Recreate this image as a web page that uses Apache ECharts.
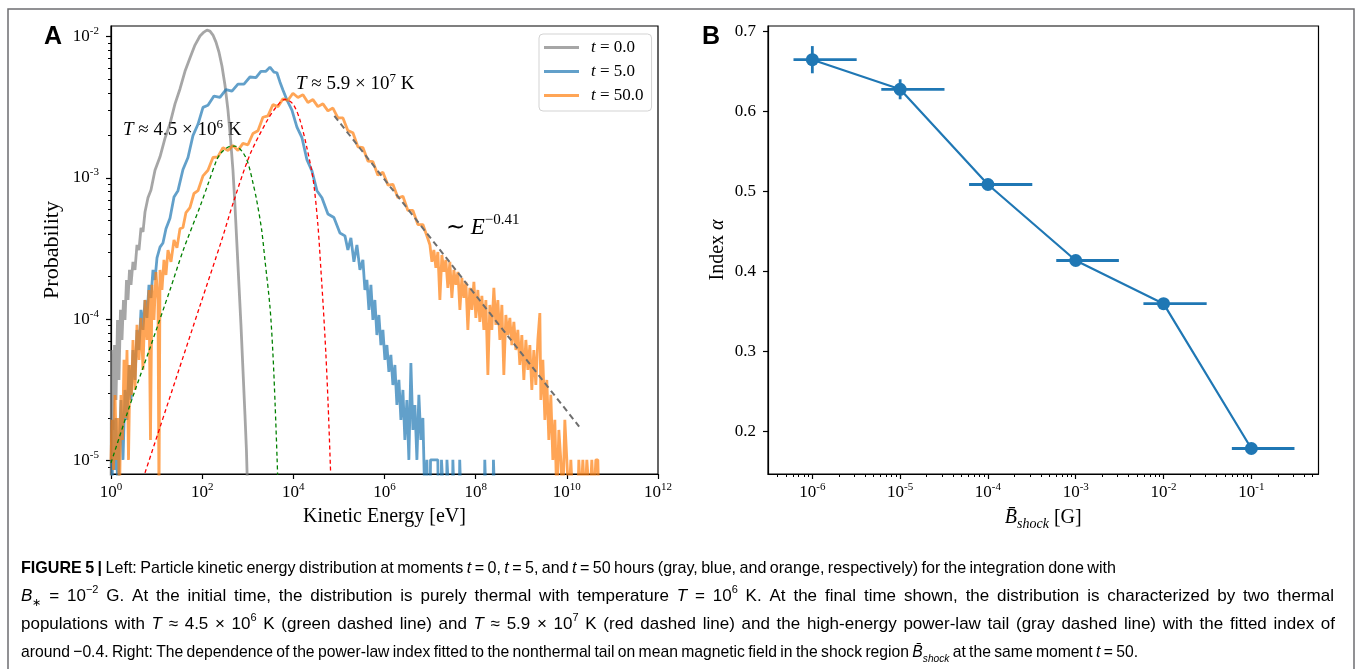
<!DOCTYPE html>
<html><head><meta charset="utf-8"><title>Figure 5</title>
<script src="https://cdn.jsdelivr.net/npm/echarts@6.0.0/dist/echarts.min.js"></script>
<style>html,body{margin:0;padding:0;background:#fff;}#chart{width:1356px;height:669px;}</style>
</head><body><div id="chart"></div>
<script>
// ================= DATA (all energy / probability values are log10) =================
const seriesNames = ['t = 0.0', 't = 5.0', 't = 50.0'];

// [log10 E (eV), log10 Probability]
const grayHist = [[0,-5.3],[0.01,-4.218],[0.044,-4.784],[0.077,-4.183],[0.11,-4.572],[0.143,-4.005],[0.175,-4.43],[0.208,-3.934],[0.241,-4.147],[0.274,-3.864],[0.307,-4.005],[0.34,-3.722],[0.373,-3.864],[0.406,-3.651],[0.439,-3.757],[0.482,-3.594],[0.526,-3.651],[0.57,-3.474],[0.614,-3.51],[0.658,-3.354],[0.702,-3.382],[0.746,-3.241],[0.811,-3.14],[0.877,-3.085],[0.965,-2.945],[1.075,-2.85],[1.184,-2.72],[1.294,-2.615],[1.404,-2.475],[1.513,-2.37],[1.623,-2.245],[1.732,-2.15],[1.842,-2.059],[1.952,-1.995],[2.039,-1.967],[2.105,-1.953],[2.171,-1.96],[2.237,-1.988],[2.303,-2.038],[2.368,-2.108],[2.434,-2.207],[2.5,-2.342],[2.566,-2.519],[2.621,-2.717],[2.675,-2.943],[2.719,-3.191],[2.763,-3.474],[2.807,-3.757],[2.851,-4.04],[2.895,-4.359],[2.939,-4.678],[2.971,-4.926],[3.004,-5.3]];

const blueHist = [[0.022,-5.3],[0.044,-4.713],[0.077,-5.067],[0.11,-4.699],[0.154,-5.3],[0.186,-4.855],[0.219,-4.572],[0.263,-4.996],[0.307,-4.501],[0.351,-4.713],[0.395,-4.324],[0.439,-4.572],[0.482,-4.218],[0.526,-4.43],[0.57,-4.076],[0.614,-4.218],[0.658,-3.934],[0.702,-4.076],[0.746,-3.864],[0.789,-3.991],[0.833,-3.757],[0.877,-3.85],[0.921,-3.651],[0.965,-3.722],[1.009,-3.566],[1.075,-3.49],[1.14,-3.46],[1.206,-3.36],[1.294,-3.285],[1.382,-3.135],[1.469,-3.09],[1.579,-2.94],[1.689,-2.855],[1.798,-2.70],[1.908,-2.62],[2.018,-2.50],[2.127,-2.485],[2.259,-2.42],[2.39,-2.43],[2.522,-2.375],[2.654,-2.385],[2.785,-2.335],[2.917,-2.335],[3.048,-2.285],[3.18,-2.29],[3.289,-2.245],[3.399,-2.245],[3.487,-2.215],[3.575,-2.25],[3.64,-2.255],[3.706,-2.32],[3.772,-2.377],[3.86,-2.448],[3.969,-2.52],[4.079,-2.64],[4.189,-2.715],[4.298,-2.87],[4.408,-2.95],[4.518,-3.09],[4.627,-3.14],[4.759,-3.255],[4.89,-3.28],[5.022,-3.39],[5.132,-3.41],[5.197,-3.51],[5.263,-3.424],[5.329,-3.594],[5.395,-3.474],[5.461,-3.651],[5.526,-3.58],[5.57,-3.793],[5.614,-3.722],[5.658,-3.934],[5.702,-3.757],[5.746,-4.005],[5.789,-3.864],[5.833,-4.112],[5.877,-3.97],[5.921,-4.183],[5.965,-4.076],[6.009,-4.288],[6.053,-4.183],[6.096,-4.373],[6.14,-4.253],[6.184,-4.466],[6.228,-4.324],[6.272,-4.607],[6.316,-4.43],[6.36,-4.713],[6.404,-4.501],[6.447,-4.855],[6.491,-4.572],[6.535,-4.996],[6.579,-4.31],[6.623,-4.784],[6.667,-4.607],[6.711,-4.996],[6.754,-4.536],[6.798,-4.855],[6.842,-4.699],[6.886,-5.3],[6.93,-4.996],[6.95,-5.3],[7.0,-5.3],[7.01,-4.996],[7.17,-4.996],[7.18,-5.3],[7.24,-5.3],[7.25,-4.996],[7.29,-4.996],[7.3,-5.3],[7.36,-5.3],[7.37,-4.996],[7.41,-4.996],[7.42,-5.3],[7.49,-5.3],[7.5,-4.996],[7.52,-4.996],[7.53,-5.3],[7.64,-5.3],[7.65,-4.996],[7.67,-4.996],[7.68,-5.3],[8.19,-5.3],[8.2,-4.996],[8.22,-4.996],[8.23,-5.3],[8.38,-5.3],[8.39,-4.996],[8.41,-4.996],[8.42,-5.3]];

const orangeHist = [[0,-4.996],[0.022,-4.713],[0.055,-5.067],[0.088,-4.536],[0.121,-4.996],[0.154,-4.699],[0.186,-5.3],[0.219,-4.536],[0.252,-4.855],[0.285,-4.288],[0.318,-4.699],[0.351,-4.218],[0.384,-4.996],[0.417,-4.324],[0.449,-4.536],[0.482,-4.147],[0.526,-4.501],[0.57,-4.04],[0.614,-4.288],[0.658,-3.991],[0.702,-4.359],[0.746,-3.864],[0.789,-4.147],[0.833,-3.793],[0.866,-4.855],[0.899,-3.757],[0.943,-4.005],[0.987,-3.666],[1.031,-3.864],[1.053,-5.3],[1.075,-3.651],[1.118,-3.793],[1.162,-3.58],[1.206,-3.687],[1.25,-3.51],[1.316,-3.594],[1.382,-3.439],[1.447,-3.495],
 [1.513,-3.36],[1.579,-3.35],[1.645,-3.245],[1.732,-3.21],[1.82,-3.11],[1.908,-3.09],[2.018,-2.985],[2.127,-2.945],[2.237,-2.855],[2.346,-2.85],[2.456,-2.785],[2.566,-2.805],[2.675,-2.77],[2.785,-2.805],[2.895,-2.755],[3.004,-2.765],[3.114,-2.685],[3.224,-2.665],[3.333,-2.57],[3.443,-2.56],[3.553,-2.48],[3.662,-2.495],[3.772,-2.44],[3.882,-2.45],[3.991,-2.40],[4.101,-2.43],[4.211,-2.41],[4.32,-2.465],[4.43,-2.445],[4.539,-2.495],[4.649,-2.475],[4.759,-2.525],[4.868,-2.505],[4.978,-2.575],[5.088,-2.575],[5.197,-2.665],[5.307,-2.68],[5.417,-2.78],[5.526,-2.785],[5.636,-2.88],[5.746,-2.885],[5.855,-2.98],[5.965,-2.96],[6.075,-3.05],[6.184,-3.045],[6.294,-3.14],[6.404,-3.13],[6.513,-3.23],[6.623,-3.23],[6.732,-3.33],[6.842,-3.33],[6.952,-3.43],
 [6.996,-3.474],[7.04,-3.594],[7.083,-3.51],[7.127,-3.637],[7.171,-3.524],[7.215,-3.864],[7.259,-3.545],[7.303,-3.665],[7.346,-3.58],[7.39,-3.778],[7.434,-3.594],[7.478,-3.849],[7.522,-3.651],[7.566,-3.757],[7.61,-3.665],[7.654,-3.934],[7.697,-3.708],[7.741,-3.849],[7.785,-3.736],[7.829,-4.076],[7.873,-3.778],[7.917,-3.934],[7.961,-3.736],[8.004,-3.991],[8.048,-3.793],[8.092,-4.019],[8.136,-3.835],[8.18,-4.076],[8.224,-3.864],[8.268,-4.395],[8.311,-3.899],[8.355,-4.076],[8.399,-3.778],[8.443,-4.04],[8.487,-3.864],[8.531,-4.147],[8.575,-3.899],[8.618,-4.395],[8.662,-3.97],[8.706,-4.112],[8.75,-3.991],[8.794,-4.183],[8.838,-4.019],[8.882,-4.218],[8.925,-4.076],[8.969,-4.324],[9.013,-4.112],[9.057,-4.43],[9.101,-4.147],[9.145,-4.359],[9.189,-4.183],[9.232,-4.501],[9.276,-4.218],[9.32,-4.466],[9.364,-4.147],[9.408,-3.956],[9.43,-4.572],[9.474,-4.288],[9.518,-4.713],[9.561,-4.43],[9.605,-4.855],[9.649,-4.536],[9.693,-4.996],[9.737,-4.713],[9.781,-5.3],[9.825,-4.784],[9.868,-4.996],[9.912,-5.3],[9.956,-4.713],[10.0,-4.996],[10.044,-5.3],[10.088,-4.996],[10.132,-5.3],[10.241,-5.3],[10.263,-4.996],[10.307,-5.3],[10.351,-4.996],[10.395,-5.3],[10.439,-4.996],[10.504,-5.3],[10.548,-4.996],[10.592,-5.3],[10.636,-4.996],[10.68,-4.996],[10.702,-5.3]];

const greenFit = [[0,-5.017],[0.417,-4.607],[0.855,-4.204],[1.294,-3.793],[1.586,-3.51],[1.952,-3.203],[2.127,-3.045],[2.318,-2.873],[2.412,-2.823],[2.537,-2.788],[2.61,-2.776],[2.719,-2.774],[2.807,-2.788],[2.901,-2.823],[2.982,-2.873],[3.048,-2.943],[3.114,-3.035],[3.195,-3.156],[3.305,-3.368],[3.377,-3.58],[3.487,-3.911],[3.55,-4.23],[3.60,-4.60],[3.645,-5.0],[3.66,-5.15]];
const redFit = [[0.746,-5.088],[1.075,-4.765],[1.441,-4.406],[1.952,-3.905],[2.428,-3.44],[2.682,-3.175],[3.048,-2.835],[3.414,-2.60],[3.618,-2.50],[3.816,-2.443],[3.991,-2.476],[4.145,-2.589],[4.292,-2.778],[4.436,-3.014],[4.539,-3.333],[4.605,-3.651],[4.656,-3.911],[4.715,-4.253],[4.765,-4.618],[4.818,-5.088]];
const powerLawFit = [[4.9,-2.56],[10.27,-4.76]];

const energyTicks = [1, 1e2, 1e4, 1e6, 1e8, 1e10, 1e12];
const probTicks = [1e-5, 1e-4, 1e-3, 1e-2];
const probMinorTicks = [9e-6, 2e-5,3e-5,4e-5,5e-5,6e-5,7e-5,8e-5,9e-5, 2e-4,3e-4,4e-4,5e-4,6e-4,7e-4,8e-4,9e-4, 2e-3,3e-3,4e-3,5e-3,6e-3,7e-3,8e-3,9e-3];

// Right panel
const bShock     = [1e-6, 1e-5, 1e-4, 1e-3, 1e-2, 1e-1];
const alphaIndex = [0.665, 0.628, 0.509, 0.414, 0.360, 0.179];
const alphaErr   = [0.017, 0.0125, 0.004, 0.004, 0.004, 0.004];
const bShockLow  = [6.1e-7, 6.1e-6, 6.1e-5, 6.0e-4, 5.9e-3, 6.0e-2];
const bShockHigh = [3.2e-6, 3.2e-5, 3.2e-4, 3.1e-3, 3.1e-2, 3.1e-1];
const bTicks = [1e-6, 1e-5, 1e-4, 1e-3, 1e-2, 1e-1];
const bMinorTicks = [4e-7,5e-7,6e-7,7e-7,8e-7,9e-7, 2e-6,3e-6,4e-6,5e-6,6e-6,7e-6,8e-6,9e-6, 2e-5,3e-5,4e-5,5e-5,6e-5,7e-5,8e-5,9e-5, 2e-4,3e-4,4e-4,5e-4,6e-4,7e-4,8e-4,9e-4, 2e-3,3e-3,4e-3,5e-3,6e-3,7e-3,8e-3,9e-3, 2e-2,3e-2,4e-2,5e-2,6e-2,7e-2,8e-2,9e-2, 2e-1,3e-1,4e-1,5e-1];
const alphaTicks = [0.2, 0.3, 0.4, 0.5, 0.6, 0.7];

// ================= RENDERING =================
const SERIF = 'Liberation Serif';
const SANS = 'Liberation Sans';
const toReal = arr => arr.map(p => [Math.pow(10, p[0]), Math.pow(10, p[1])]);

const tickRich = {
  b: {fontFamily: SERIF, fontSize: 17, lineHeight: 22, color: '#000'},
  s: {fontFamily: SERIF, fontSize: 11, lineHeight: 12, verticalAlign: 'top', color: '#000'}
};
function powLabel(v) {
  const e = Math.log10(v), r = Math.round(e);
  if (Math.abs(e - r) > 1e-6) return '';
  return '{b|10}{s|' + (r < 0 ? '-' + (-r) : String(r)) + '}';
}
const axisLineStyle = {color: '#000', width: 1.2};

const chart = echarts.init(document.getElementById('chart'), null, {renderer: 'canvas'});

// ---- caption: per-line glyph scale (capped) + word spacing to reach each line's width ----
const capColor = '#231f20';
const capStyles = {
  n:   {fontFamily: SANS, fontSize: 17, lineHeight: 24, color: capColor},
  fb:  {fontFamily: SANS, fontSize: 17, lineHeight: 24, fontWeight: 'bold', color: capColor},
  i:   {fontFamily: SANS, fontSize: 17, lineHeight: 24, fontStyle: 'italic', color: capColor},
  sup: {fontFamily: SANS, fontSize: 11, lineHeight: 14, verticalAlign: 'top', color: capColor},
  sub: {fontFamily: SANS, fontSize: 11, lineHeight: 18, verticalAlign: 'bottom', color: capColor},
  isub:{fontFamily: SANS, fontSize: 11, lineHeight: 18, verticalAlign: 'bottom', fontStyle: 'italic', color: capColor}
};
const measureCtx = document.createElement('canvas').getContext('2d');
function widthOf(styleName, text) {
  const s = capStyles[styleName];
  measureCtx.font = (s.fontStyle || 'normal') + ' ' + (s.fontWeight || 'normal') + ' ' + s.fontSize + 'px "' + s.fontFamily + '"';
  return measureCtx.measureText(text).width;
}
const captionLines = [
  '{fb|FIGURE 5 |}{n| Left: Particle kinetic energy distribution at moments }{i|t}{n| = 0, }{i|t}{n| = 5, and }{i|t}{n| = 50 hours (gray, blue, and orange, respectively) for the integration done with}',
  '{i|B}{sub|∗}{n| = 10}{sup|−2}{n| G. At the initial time, the distribution is purely thermal with temperature }{i|T}{n| = 10}{sup|6}{n| K. At the final time shown, the distribution is characterized by two thermal}',
  '{n|populations with }{i|T}{n| ≈ 4.5 × 10}{sup|6}{n| K (green dashed line) and }{i|T}{n| ≈ 5.9 × 10}{sup|7}{n| K (red dashed line) and the high-energy power-law tail (gray dashed line) with the fitted index of}',
  '{n|around −0.4. Right: The dependence of the power-law index fitted to the nonthermal tail on mean magnetic field in the shock region }{i|B\u0304}{isub|shock}{n| at the same moment }{i|t}{n| = 50.}'
];
const captionWidths = [1095, 1313, 1314, 1117];
const captionY = [568, 596, 624, 652];
const captionInfo = captionLines.map(str => {
  const re = /\{(\w+)\|([^}]*)\}/g; let m; const parts = []; let wordsW = 0, nSp = 0;
  while ((m = re.exec(str))) {
    const st = m[1];
    m[2].split(' ').forEach((w, j) => {
      if (j > 0) { parts.push(null); nSp++; }
      if (w) { parts.push([st, w]); wordsW += widthOf(st, w); }
    });
  }
  return {parts, wordsW, nSp};
});
const MAX_SCALE = 1.0, MIN_SPACE = 3.6;
const captionGraphics = captionInfo.map((info, k) => {
  const s = Math.min(MAX_SCALE, captionWidths[k] / (info.wordsW + info.nSp * MIN_SPACE));
  const spW = (captionWidths[k] / s - info.wordsW) / info.nSp;
  const rich = Object.assign({}, capStyles, {sp: Object.assign({}, capStyles.n, {width: spW})});
  const text = info.parts.map(p => p ? '{' + p[0] + '|' + p[1] + '}' : '{sp| }').join('');
  return {type: 'text', x: 21, y: captionY[k], scaleX: s, originX: 0, originY: 0,
          style: {text, rich, x: 0, y: 0, verticalAlign: 'middle', align: 'left'}, silent: true};
});

const annRich = {
  i: {fontFamily: SERIF, fontStyle: 'italic', fontSize: 19, lineHeight: 24, color: '#000'},
  n: {fontFamily: SERIF, fontSize: 19, lineHeight: 24, color: '#000'},
  s: {fontFamily: SERIF, fontSize: 13, lineHeight: 14, verticalAlign: 'top', color: '#000'},
  I: {fontFamily: SERIF, fontStyle: 'italic', fontSize: 23, lineHeight: 30, color: '#000'},
  N: {fontFamily: SERIF, fontSize: 23, lineHeight: 30, color: '#000'},
  S: {fontFamily: SERIF, fontSize: 15, lineHeight: 16, verticalAlign: 'top', color: '#000'}
};

const histLine = (name, data, color) => ({
  name, type: 'line', xAxisIndex: 0, yAxisIndex: 0, data: toReal(data), symbol: 'none', clip: true,
  color, lineStyle: {color, width: 2.8}, z: 2, silent: true
});
const fitLine = (name, data, color, width, dash, smooth) => ({
  name, type: 'line', xAxisIndex: 0, yAxisIndex: 0, data: toReal(data), symbol: 'none', clip: true, smooth,
  lineStyle: {color, width, type: dash}, z: 4, silent: true
});

const errData = bShock.map((b, i) => [b, alphaIndex[i], alphaErr[i], bShockLow[i], bShockHigh[i]]);
const BLUE = '#1f77b4';

const option = {
  animation: false,
  backgroundColor: '#fff',
  grid: [
    {left: 111, right: 698, top: 26, bottom: 195, show: true, borderColor: '#000', borderWidth: 1.2, backgroundColor: 'transparent'},
    {left: 768, right: 37.5, top: 26, bottom: 195, show: true, borderColor: '#000', borderWidth: 1.2, backgroundColor: 'transparent'}
  ],
  xAxis: [
    {type: 'log', logBase: 10, gridIndex: 0, position: 'bottom', min: 1, max: 1e12,
     name: 'Kinetic Energy [eV]', nameLocation: 'middle', nameGap: 33,
     nameTextStyle: {fontFamily: SERIF, fontSize: 20, color: '#000'},
     axisLine: {show: true, lineStyle: axisLineStyle},
     axisTick: {show: true, length: 5, lineStyle: axisLineStyle, customValues: energyTicks},
     axisLabel: {show: true, customValues: energyTicks, formatter: powLabel, rich: tickRich, margin: 8},
     splitLine: {show: false}},
    {type: 'log', logBase: 10, gridIndex: 1, position: 'bottom', min: Math.pow(10, -6.505), max: Math.pow(10, -0.235),
     name: '{i|B\u0304}{sub|shock}{n| [G]}', nameLocation: 'middle', nameGap: 31,
     nameTextStyle: {fontFamily: SERIF, fontSize: 20, color: '#000', rich: {
       i: {fontFamily: SERIF, fontStyle: 'italic', fontSize: 20, lineHeight: 26},
       n: {fontFamily: SERIF, fontSize: 20, lineHeight: 26},
       sub: {fontFamily: SERIF, fontStyle: 'italic', fontSize: 14, lineHeight: 20, verticalAlign: 'bottom'}}},
     axisLine: {show: true, lineStyle: axisLineStyle},
     axisTick: {show: true, length: 5, lineStyle: axisLineStyle, customValues: bTicks},
     axisLabel: {show: true, customValues: bTicks, formatter: powLabel, rich: tickRich, margin: 8},
     splitLine: {show: false}},
    {type: 'log', logBase: 10, gridIndex: 1, position: 'bottom', min: Math.pow(10, -6.505), max: Math.pow(10, -0.235),
     axisLine: {show: false}, axisLabel: {show: false}, splitLine: {show: false},
     axisTick: {show: true, length: 3, lineStyle: {color: '#000', width: 1}, customValues: bMinorTicks}}
  ],
  yAxis: [
    {type: 'log', logBase: 10, gridIndex: 0, position: 'left', min: Math.pow(10, -5.096), max: Math.pow(10, -1.924),
     name: 'Probability', nameLocation: 'middle', nameGap: 48,
     nameTextStyle: {fontFamily: SERIF, fontSize: 22, color: '#000'},
     axisLine: {show: true, lineStyle: axisLineStyle},
     axisTick: {show: true, length: 5, lineStyle: axisLineStyle, customValues: probTicks},
     axisLabel: {show: true, customValues: probTicks, formatter: powLabel, rich: tickRich, margin: 12},
     splitLine: {show: false}},
    {type: 'log', logBase: 10, gridIndex: 0, position: 'left', min: Math.pow(10, -5.096), max: Math.pow(10, -1.924),
     axisLine: {show: false}, axisLabel: {show: false}, splitLine: {show: false},
     axisTick: {show: true, length: 3, lineStyle: {color: '#000', width: 1}, customValues: probMinorTicks}},
    {type: 'value', gridIndex: 1, position: 'left', min: 0.1471, max: 0.7071,
     name: '{n|Index }{i|α}', nameLocation: 'middle', nameGap: 40,
     nameTextStyle: {fontFamily: SERIF, fontSize: 20, color: '#000', rich: {
       n: {fontFamily: SERIF, fontSize: 20}, i: {fontFamily: SERIF, fontStyle: 'italic', fontSize: 20}}},
     axisLine: {show: true, lineStyle: axisLineStyle},
     axisTick: {show: true, length: 5, lineStyle: axisLineStyle, customValues: alphaTicks},
     axisLabel: {show: true, customValues: alphaTicks, formatter: v => v.toFixed(1), fontFamily: SERIF, fontSize: 17, color: '#000', margin: 12},
     splitLine: {show: false}}
  ],
  legend: {
    data: seriesNames, orient: 'vertical', left: 539, top: 34, padding: [5, 8, 7, 5], itemGap: 7,
    itemWidth: 35, itemHeight: 3, icon: 'rect', selectedMode: false,
    backgroundColor: 'rgba(255,255,255,0.8)', borderColor: '#d3d3d3', borderWidth: 1, borderRadius: 4,
    formatter: n => '{i|t}{n|' + n.slice(1) + '}',
    textStyle: {padding: [0, 0, 0, 7], lineHeight: 17, rich: {
      i: {fontFamily: SERIF, fontStyle: 'italic', fontSize: 17, lineHeight: 17, color: '#000'},
      n: {fontFamily: SERIF, fontSize: 17, lineHeight: 17, color: '#000'}}}
  },
  series: [
    histLine(seriesNames[0], grayHist, 'rgba(128,128,128,0.7)'),
    histLine(seriesNames[1], blueHist, 'rgba(31,119,180,0.7)'),
    histLine(seriesNames[2], orangeHist, 'rgba(255,127,14,0.7)'),
    fitLine('thermal 4.5e6 K', greenFit, '#008000', 1.3, [4, 3], 0.3),
    fitLine('thermal 5.9e7 K', redFit, '#ff0000', 1.3, [4, 3], 0.3),
    fitLine('power law', powerLawFit, '#6e6e6e', 2, [6, 4], false),
    {name: 'error bars', type: 'custom', xAxisIndex: 1, yAxisIndex: 2, data: errData, encode: {x: 0, y: 1}, z: 3, silent: true,
     renderItem: (params, api) => {
       const b = api.value(0), a = api.value(1), e = api.value(2), lo = api.value(3), hi = api.value(4);
       const p1 = api.coord([lo, a]), p2 = api.coord([hi, a]);
       const q1 = api.coord([b, a - e]), q2 = api.coord([b, a + e]);
       return {type: 'group', children: [
         {type: 'line', shape: {x1: p1[0], y1: p1[1], x2: p2[0], y2: p2[1]}, style: {stroke: BLUE, lineWidth: 2.8}},
         {type: 'line', shape: {x1: q1[0], y1: q1[1], x2: q2[0], y2: q2[1]}, style: {stroke: BLUE, lineWidth: 2.8}}
       ]};
     }},
    {name: 'alpha', type: 'line', xAxisIndex: 1, yAxisIndex: 2, data: bShock.map((b, i) => [b, alphaIndex[i]]),
     symbol: 'circle', symbolSize: 13, showSymbol: true, color: BLUE, itemStyle: {color: BLUE},
     lineStyle: {color: BLUE, width: 2.2}, z: 4, silent: true}
  ],
  graphic: [
    {type: 'polyline', shape: {points: [[8, 669], [8, 9], [1354, 9], [1354, 669]]}, style: {stroke: '#6d6e71', lineWidth: 1.5, fill: null}, silent: true},
    {type: 'text', x: 44, y: 37, style: {text: 'A', fontFamily: SANS, fontWeight: 'bold', fontSize: 25, fill: '#000', verticalAlign: 'middle'}},
    {type: 'text', x: 702, y: 37, style: {text: 'B', fontFamily: SANS, fontWeight: 'bold', fontSize: 25, fill: '#000', verticalAlign: 'middle'}},
    {type: 'text', x: 123, y: 130, style: {text: '{i|T}{n| ≈ 4.5 × 10}{s|6}{n| K}', rich: annRich, verticalAlign: 'middle'}},
    {type: 'text', x: 296, y: 84, style: {text: '{i|T}{n| ≈ 5.9 × 10}{s|7}{n| K}', rich: annRich, verticalAlign: 'middle'}},
    {type: 'text', x: 446, y: 228, style: {text: '{N|∼ }{I|E}{S|−0.41}', rich: annRich, verticalAlign: 'middle'}}
  ].concat(captionGraphics)
};
chart.setOption(option);
</script></body></html>
